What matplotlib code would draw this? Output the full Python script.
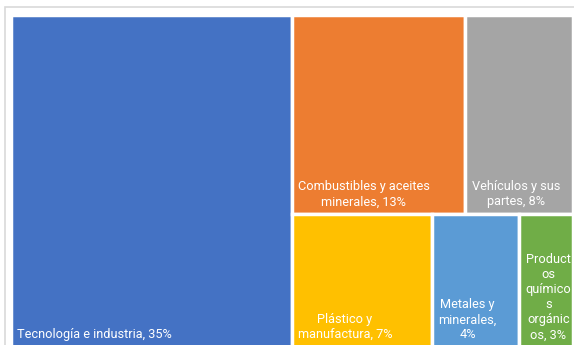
import matplotlib.pyplot as plt
from matplotlib.patches import Rectangle

labels = ["Tecnología e industria, 35%",
          "Combustibles y aceites\nminerales, 13%",
          "Vehículos y sus\npartes, 8%",
          "Plástico y\nmanufactura, 7%",
          "Metales y\nminerales,\n4%",
          "Product\nos\nquímico\ns\norgánic\nos, 3%"]
# shares in %, the two small ones
sizes = [35, 13, 8, 7, 4.35, 2.65]
colors = ["#4472C4", "#ED7D31", "#A5A5A5", "#FFC000", "#5B9BD5", "#70AD47"]


def worst(row, side):
    s = sum(row)
    return max(max(side * side * r / (s * s), s * s / (side * side * r)) for r in row)


def squarify(vals, x, y, w, h):
    # vals are areas already scaled to w*h
    rects = []
    vals = list(vals)
    while vals:
        side = min(w, h)
        row = [vals.pop(0)]
        while vals and worst(row + [vals[0]], side) <= worst(row, side):
            row.append(vals.pop(0))
        s = sum(row)
        if w >= h:
            cw = s / h
            yy = y
            for r in row:
                rects.append((x, yy, cw, r / cw))
                yy += r / cw
            x += cw
            w -= cw
        else:
            rh = s / w
            xx = x
            for r in row:
                rects.append((xx, y, r / rh, rh))
                xx += r / rh
            y += rh
            h -= rh
    return rects


fig = plt.figure(figsize=(5.74, 3.45), dpi=100)
W, H = 574, 345

# chart area border (cut by the picture edges)
fig.patches.append(Rectangle((4.5 / W, -0.1), 1.2, (H - 7) / H + 0.1,
                             transform=fig.transFigure, fill=False,
                             edgecolor="#d9d9d9", linewidth=1.2))

# treemap area in pixels, runs a bit past the bottom of the picture
left, top, aw, ah = 10.5, 14.5, 562, 333
ax = fig.add_axes([left / W, 1 - (top + ah) / H, aw / W, ah / H])
ax.set_xlim(0, aw)
ax.set_ylim(ah, 0)
ax.axis("off")

total = sum(sizes)
areas = [v / total * aw * ah for v in sizes]
rects = squarify(areas, 0, 0, aw, ah)

for (x, y, w, h), c, lab in zip(rects, colors, labels):
    ax.add_patch(Rectangle((x, y), w, h, facecolor=c, edgecolor="white",
                           linewidth=2.5))
    ax.annotate(lab, (x, y + h), xytext=(4.5, 6.5), textcoords="offset points",
                ha="left", va="baseline", multialignment="center",
                color="white", fontsize=9.2, family="Roboto", linespacing=1.2)

fig.savefig("out.png", dpi=100)
